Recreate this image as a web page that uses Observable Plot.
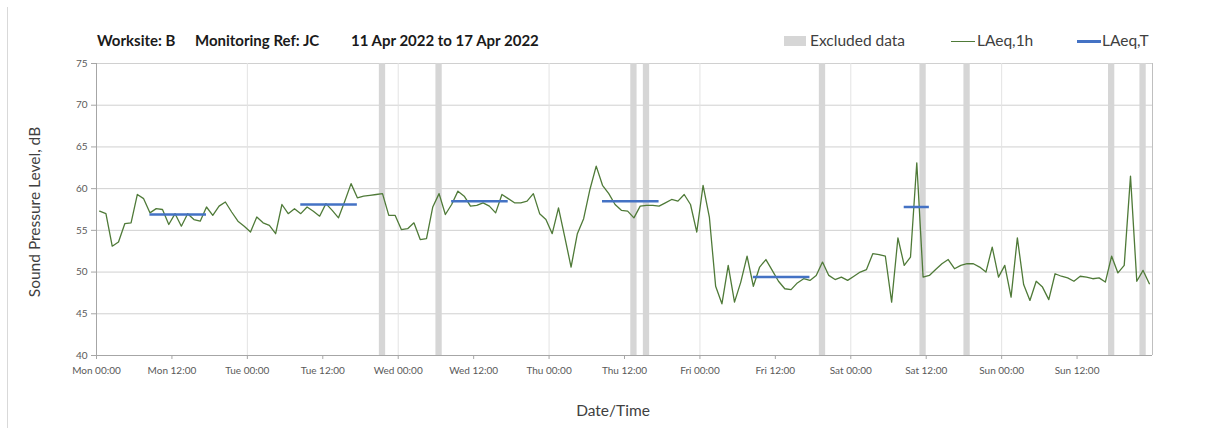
<!DOCTYPE html>
<html>
<head>
<meta charset="utf-8">
<script src="https://cdn.jsdelivr.net/npm/d3@7"></script>
<script src="https://cdn.jsdelivr.net/npm/@observablehq/plot@0.6"></script>
<style>
  body { margin: 0; background: #fff; font-family: Lato, "Open Sans", sans-serif; }
  #wrap { position: relative; width: 1205px; height: 434px; overflow: hidden; }
  #frame { position: absolute; left: 7px; top: 7px; width: 1px; height: 421px; background: #d9d9d9; }
  .t { position: absolute; white-space: nowrap; color: #1a1a1a; font-weight: 700; font-size: 15px; line-height: 1; }
  .lg { position: absolute; white-space: nowrap; color: #404040; font-size: 15.5px; line-height: 1; }
  .ax { position: absolute; white-space: nowrap; color: #404040; font-size: 15.5px; line-height: 1; }
  #chart { position: absolute; left: 0; top: 0; }
</style>
</head>
<body>
<div id="wrap">
  <div id="frame"></div>
  <div id="chart"></div>
</div>
<script>
// ---- data ----
const startTime = "2022-04-11T00:00:00Z";   // Mon 00:00
const endTime = "2022-04-18T00:00:00Z";     // end of Sun
// hourly LAeq,1h values, Mon 00:00 hour onward (168 hours)
const laeq1h = [
  57.3,57.0,53.1,53.6,55.8,55.9,59.3,58.8,57.1,57.6,57.5,55.7,57.0,55.5,57.0,56.3,56.1,57.8,56.8,57.9,58.4,57.2,56.1,55.5,
  54.8,56.6,55.9,55.6,54.6,58.1,57.0,57.6,57.0,57.8,57.3,56.7,58.2,57.4,56.5,58.5,60.6,58.9,59.1,59.2,59.3,59.4,56.8,56.8,
  55.1,55.2,55.9,53.9,54.0,57.8,59.4,56.9,58.1,59.7,59.1,57.9,58.0,58.3,57.9,57.1,59.3,58.8,58.3,58.3,58.5,59.4,57.0,56.3,
  54.6,57.7,54.2,50.6,54.6,56.4,59.9,62.7,60.4,59.4,58.1,57.4,57.3,56.5,57.9,58.0,58.0,57.9,58.3,58.7,58.5,59.3,58.1,54.8,
  60.4,56.6,48.3,46.2,50.8,46.4,48.8,51.9,48.3,50.6,51.5,50.2,48.9,48.0,47.9,48.7,49.2,49.0,49.6,51.2,49.6,49.1,49.4,49.0,
  49.5,50.0,50.3,52.2,52.1,51.9,46.4,54.1,50.8,51.8,63.1,49.4,49.6,50.3,51.0,51.5,50.4,50.8,51.0,51.0,50.6,50.0,53.0,49.4,
  50.8,47.0,54.1,48.5,46.6,48.9,48.2,46.7,49.8,49.5,49.3,48.9,49.5,49.4,49.2,49.3,48.8,51.9,49.9,50.8,61.5,48.9,50.2,48.6
];
// excluded hours (hour index from Mon 00:00)
const excludedHours = [45, 54, 85, 87, 115, 131, 138, 161, 166];
// LAeq,T periods
const periodStart = ["2022-04-11T08:30:00Z","2022-04-12T08:30:00Z","2022-04-13T08:30:00Z","2022-04-14T08:30:00Z","2022-04-15T08:30:00Z","2022-04-16T08:30:00Z"];
const periodEnd   = ["2022-04-11T17:30:00Z","2022-04-12T17:30:00Z","2022-04-13T17:30:00Z","2022-04-14T17:30:00Z","2022-04-15T17:30:00Z","2022-04-16T12:30:00Z"];
const periodLevel = [56.9, 58.1, 58.5, 58.5, 49.4, 57.8];
const yTicks = [40, 45, 50, 55, 60, 65, 70, 75];
const xTickLabels = ["Mon 00:00","Mon 12:00","Tue 00:00","Tue 12:00","Wed 00:00","Wed 12:00","Thu 00:00","Thu 12:00","Fri 00:00","Fri 12:00","Sat 00:00","Sat 12:00","Sun 00:00","Sun 12:00"];

// ---- build ----
const t0 = new Date(startTime);
const t1 = new Date(endTime);
const HOUR = 3600 * 1000;
const series = laeq1h.map((v, i) => ({t: new Date(+t0 + (i + 0.5) * HOUR), v}));
const excluded = excludedHours.map(h => ({a: new Date(+t0 + h * HOUR), b: new Date(+t0 + (h + 1) * HOUR)}));
const periods = periodLevel.map((v, i) => ({a: new Date(periodStart[i]), b: new Date(periodEnd[i]), v}));
const xTicks = xTickLabels.map((s, i) => new Date(+t0 + i * 12 * HOUR));
const midnights = xTicks.filter((d, i) => i > 0 && i % 2 === 0);

const chart = Plot.plot({
  width: 1205,
  height: 434,
  marginLeft: 96,
  marginRight: 53,
  marginTop: 63,
  marginBottom: 79,
  style: {fontFamily: "Lato, 'Open Sans', sans-serif", fontSize: "10px", color: "#595959", background: "transparent", overflow: "visible"},
  x: {type: "utc", domain: [t0, t1]},
  y: {domain: [40, 75]},
  marks: [
    Plot.gridY(yTicks.slice(1), {stroke: "#d0d0d0", strokeOpacity: 1, strokeWidth: 1}),
    Plot.ruleX(midnights, {stroke: "#e3e3e3", strokeWidth: 1}),
    Plot.rect(excluded, {x1: "a", x2: "b", y1: 40, y2: 75, fill: "#d6d6d6"}),
    Plot.ruleX([t1], {stroke: "#bfbfbf"}),
    Plot.line(series, {x: "t", y: "v", stroke: "#4f7a38", strokeWidth: 1.3}),
    Plot.ruleY(periods, {x1: "a", x2: "b", y: "v", stroke: "#4472c4", strokeWidth: 2.5}),
    Plot.ruleY([40], {stroke: "#a6a6a6"}),
    Plot.ruleX([t0], {stroke: "#a6a6a6"}),
    Plot.axisY({ticks: yTicks, tickSize: 5, tickPadding: 4, label: null, stroke: "#a6a6a6", fill: "#595959"}),
    Plot.axisX({ticks: xTicks, tickSize: 4, tickPadding: 7, label: null, tickFormat: (d) => xTickLabels[Math.round((d - t0) / (12 * HOUR))], stroke: "#a6a6a6", fill: "#595959"})
  ]
});
document.getElementById("chart").appendChild(chart);

// ---- overlay text ----
const wrap = document.getElementById("wrap");
function addText(cls, txt, left, top, extra) {
  const d = document.createElement("div");
  d.className = cls; d.textContent = txt;
  d.style.left = left + "px"; d.style.top = top + "px";
  if (extra) Object.assign(d.style, extra);
  wrap.appendChild(d);
  return d;
}
const titleParts = ["Worksite: B", "Monitoring Ref: JC", "11 Apr 2022 to 17 Apr 2022"];
addText("t", titleParts[0], 97, 33);
addText("t", titleParts[1], 195, 33);
addText("t", titleParts[2], 351, 33);

// legend
const legendLabels = ["Excluded data", "LAeq,1h", "LAeq,T"];
const sw1 = document.createElement("div");
Object.assign(sw1.style, {position: "absolute", left: "784px", top: "36px", width: "22px", height: "10px", background: "#d6d6d6"});
wrap.appendChild(sw1);
addText("lg", legendLabels[0], 810, 33);
const sw2 = document.createElement("div");
Object.assign(sw2.style, {position: "absolute", left: "951px", top: "41px", width: "24px", height: "1.3px", background: "#4f7a38"});
wrap.appendChild(sw2);
addText("lg", legendLabels[1], 977, 33);
const sw3 = document.createElement("div");
Object.assign(sw3.style, {position: "absolute", left: "1077px", top: "40px", width: "24px", height: "2.5px", background: "#4472c4"});
wrap.appendChild(sw3);
addText("lg", legendLabels[2], 1102, 33);

// axis titles
addText("ax", "Sound Pressure Level, dB", 35, 212, {transform: "translate(-50%, -50%) rotate(-90deg)"});
addText("ax", "Date/Time", 613, 411, {transform: "translate(-50%, -50%)"});
</script>
</body>
</html>
